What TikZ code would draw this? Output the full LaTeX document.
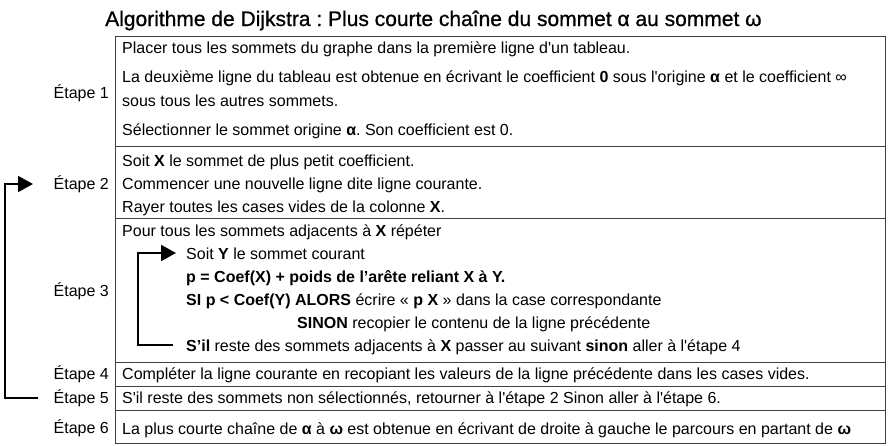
\documentclass[tikz,border=0pt]{standalone}
\usepackage{fontspec}
\setmainfont{Liberation Sans}
\usetikzlibrary{arrows.meta}
\newcommand{\sq}{\textquotesingle}
\begin{document}
\frenchspacing
\begin{tikzpicture}[x=1pt,y=-1pt,
  txt/.style={anchor=base west,inner sep=0pt,font=\fontsize{16}{19}\selectfont},
  lab/.style={anchor=base east,inner sep=0pt,font=\fontsize{16}{19}\selectfont},
  ttl/.style={anchor=base west,inner sep=0pt,font=\fontsize{21}{24}\selectfont\addfontfeature{FakeBold=0.8}},
  frame/.style={draw=black!75,line width=1pt},
  looparrow/.style={line width=2pt,-{Triangle[length=15pt,width=16pt]}}]
\useasboundingbox (0,0) rectangle (889,445);
% title
\node[ttl] (title) at (105,26) {Algorithme de Dijkstra : Plus courte chaîne du sommet α au sommet ω};
% frame
\draw[frame] (115,36) rectangle (885,443);
\draw[frame] (115,146) -- (885,146);
\draw[frame] (115,218) -- (885,218);
\draw[frame] (115,362) -- (885,362);
\draw[frame] (115,386) -- (885,386);
\draw[frame] (115,410) -- (885,410);
% labels
\node[lab] (e1) at (109,98) {Étape 1};
\node[lab] (e2) at (109,189) {Étape 2};
\node[lab] (e3) at (109,296) {Étape 3};
\node[lab] (e4) at (109,379) {Étape 4};
\node[lab] (e5) at (109,403) {Étape 5};
\node[lab] (e6) at (109,433) {Étape 6};
% row 1
\node[txt] (r1a) at (122,53) {Placer tous les sommets du graphe dans la première ligne d\sq un tableau.};
\node[txt] (r1b) at (122,82) {La deuxième ligne du tableau est obtenue en écrivant le coefficient \textbf{0} sous l\sq origine \textbf{α} et le coefficient ∞};
\node[txt] (r1c) at (122,106) {sous tous les autres sommets.};
\node[txt] (r1d) at (122,135) {Sélectionner le sommet origine \textbf{α}. Son coefficient est 0.};
% row 2
\node[txt] (r2a) at (122,166) {Soit \textbf{X} le sommet de plus petit coefficient.};
\node[txt] (r2b) at (122,189) {Commencer une nouvelle ligne dite ligne courante.};
\node[txt] (r2c) at (122,212) {Rayer toutes les cases vides de la colonne \textbf{X}.};
% row 3
\node[txt] (r3a) at (122,236) {Pour tous les sommets adjacents à \textbf{X} répéter};
\node[txt] (r3b) at (186,259) {Soit \textbf{Y} le sommet courant};
\node[txt] (r3c) at (186,282) {\textbf{p = Coef(X) + poids de l’arête reliant X à Y.}};
\node[txt] (r3d) at (186,305) {\textbf{SI p < Coef(Y) ALORS} écrire « \textbf{p X} » dans la case correspondante};
\node[txt] (r3e) at (297,328) {\textbf{SINON} recopier le contenu de la ligne précédente};
\node[txt] (r3f) at (186,351) {\textbf{S’il} reste des sommets adjacents à \textbf{X} passer au suivant \textbf{sinon} aller à l\sq étape 4};
% rows 4-6
\node[txt] (r4) at (122,379) {Compléter la ligne courante en recopiant les valeurs de la ligne précédente dans les cases vides.};
\node[txt] (r5) at (122,403) {S\sq il reste des sommets non sélectionnés, retourner à l\sq étape 2 Sinon aller à l\sq étape 6.};
\node[txt] (r6) at (122,434) {La plus courte chaîne de \textbf{α} à \textbf{ω} est obtenue en écrivant de droite à gauche le parcours en partant de \textbf{ω}};
% inner loop
\coordinate (iS) at (173,345);
\coordinate (iB) at (138,345);
\coordinate (iT) at (138,253);
\coordinate (iE) at (176,253);
\draw[looparrow] (iS) -- (iB) -- (iT) -- (iE);
% outer loop
\coordinate (oS) at (38,398);
\coordinate (oB) at (5,398);
\coordinate (oT) at (5,184);
\coordinate (oE) at (33,184);
\draw[looparrow] (oS) -- (oB) -- (oT) -- (oE);
\end{tikzpicture}
\end{document}
